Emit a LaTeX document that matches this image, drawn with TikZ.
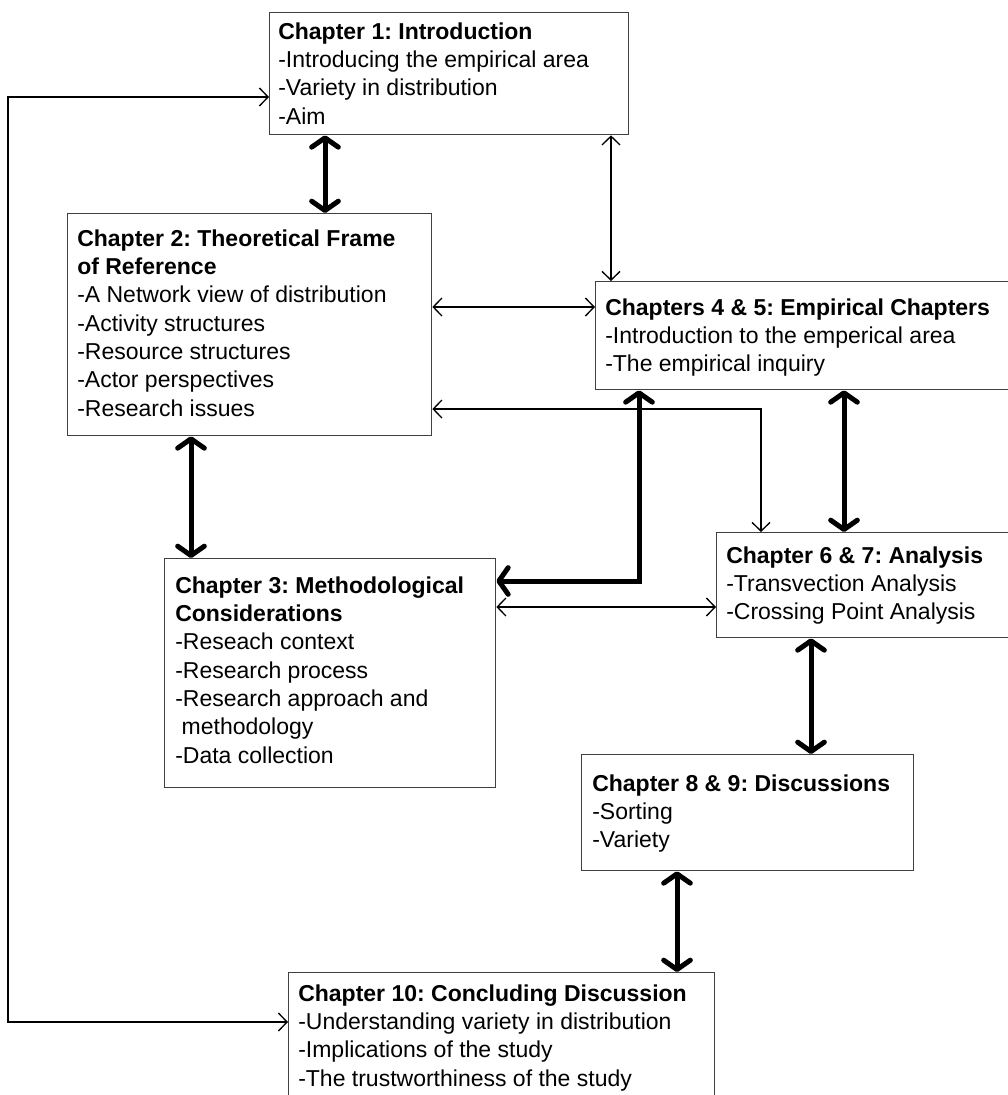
\documentclass[tikz,border=0pt]{standalone}
\usepackage{fontspec}
\setmainfont{Liberation Sans}
\usetikzlibrary{arrows.meta}
\frenchspacing
\begin{document}
\begin{tikzpicture}[x=0.75pt,y=-0.75pt,
  chapbox/.style={draw=black!75, line width=1pt, rectangle, inner sep=0pt, anchor=north west},
  chaptext/.style={anchor=north west, inner sep=0pt, align=left,
    font=\fontsize{17.25}{21.2}\selectfont},
  thinlink/.style={line width=1pt,
    {Straight Barb[length=6.5pt,width=13.5pt]}-{Straight Barb[length=6.5pt,width=13.5pt]}},
  thicklink/.style={line width=3.75pt,
    {Straight Barb[length=7pt,width=20pt,round]}-{Straight Barb[length=7pt,width=20pt,round]}}
]
\useasboundingbox (0,0) rectangle (1007,1095);

% chapter frames
\node[chapbox, minimum width=269.25pt, minimum height=91.5pt]  (c1)  at (269,12)  {};
\node[chapbox, minimum width=273pt,    minimum height=166.5pt] (c2)  at (67,213)  {};
\node[chapbox, minimum width=337.5pt,  minimum height=81pt]    (c4)  at (595,281) {};
\node[chapbox, minimum width=247.5pt,  minimum height=78.75pt] (c6)  at (716,532) {};
\node[chapbox, minimum width=248.25pt, minimum height=171.75pt](c3)  at (164,558) {};
\node[chapbox, minimum width=249pt,    minimum height=87pt]    (c8)  at (581,754) {};
\node[chapbox, minimum width=319.5pt,  minimum height=120pt]   (c10) at (288,972) {};

% chapter contents
\node[chaptext] (t1) at (278,22.5) {\textbf{Chapter 1: Introduction}\\-Introducing the empirical area\\-Variety in distribution\\-Aim};
\node[chaptext] (t2) at (77,229.5) {\textbf{Chapter 2: Theoretical Frame}\\\textbf{of Reference}\\-A Network view of distribution\\-Activity structures\\-Resource structures\\-Actor perspectives\\-Research issues};
\node[chaptext] (t4) at (605,298.5) {\textbf{Chapters 4 \& 5: Empirical Chapters}\\-Introduction to the emperical area\\-The empirical inquiry};
\node[chaptext] (t6) at (726,546.5) {\textbf{Chapter 6 \& 7: Analysis}\\-Transvection Analysis\\-Crossing Point Analysis};
\node[chaptext] (t3) at (175,576.5) {\textbf{Chapter 3: Methodological}\\\textbf{Considerations}\\-Reseach context\\-Research process\\-Research approach and\\\hspace*{0.28em}methodology\\-Data collection};
\node[chaptext] (t8) at (592,774.5) {\textbf{Chapter 8 \& 9: Discussions}\\-Sorting\\-Variety};
\node[chaptext] (t10) at (298,984.5) {\textbf{Chapter 10: Concluding Discussion}\\-Understanding variety in distribution\\-Implications of the study\\-The trustworthiness of the study};

% thin links
\draw[thinlink] (c10.west |- 0,1022) -- (8,1022) -- (8,97) -- (c1.west |- 0,97);
\draw[thinlink] (c1.south -| 611,0) -- (c4.north -| 611,0);
\draw[thinlink] (c2.east |- 0,307) -- (c4.west |- 0,307);
\draw[thinlink] (c6.north -| 761,0) -- (761,409) -- (c2.east |- 0,409);
\draw[thinlink] (c3.east |- 0,607) -- (c6.west |- 0,607);

% thick links
\draw[thicklink] (c1.south -| 325,0) -- (c2.north -| 325,0);
\draw[thicklink] (c2.south -| 191,0) -- (c3.north -| 191,0);
\draw[thicklink] (c4.south -| 639,0) -- (639,581) -- (c3.east |- 0,581);
\draw[thicklink] (c4.south -| 844,0) -- (c6.north -| 844,0);
\draw[thicklink] (c6.south -| 811,0) -- (c8.north -| 811,0);
\draw[thicklink] (c8.south -| 677,0) -- (c10.north -| 677,0);
\end{tikzpicture}
\end{document}
